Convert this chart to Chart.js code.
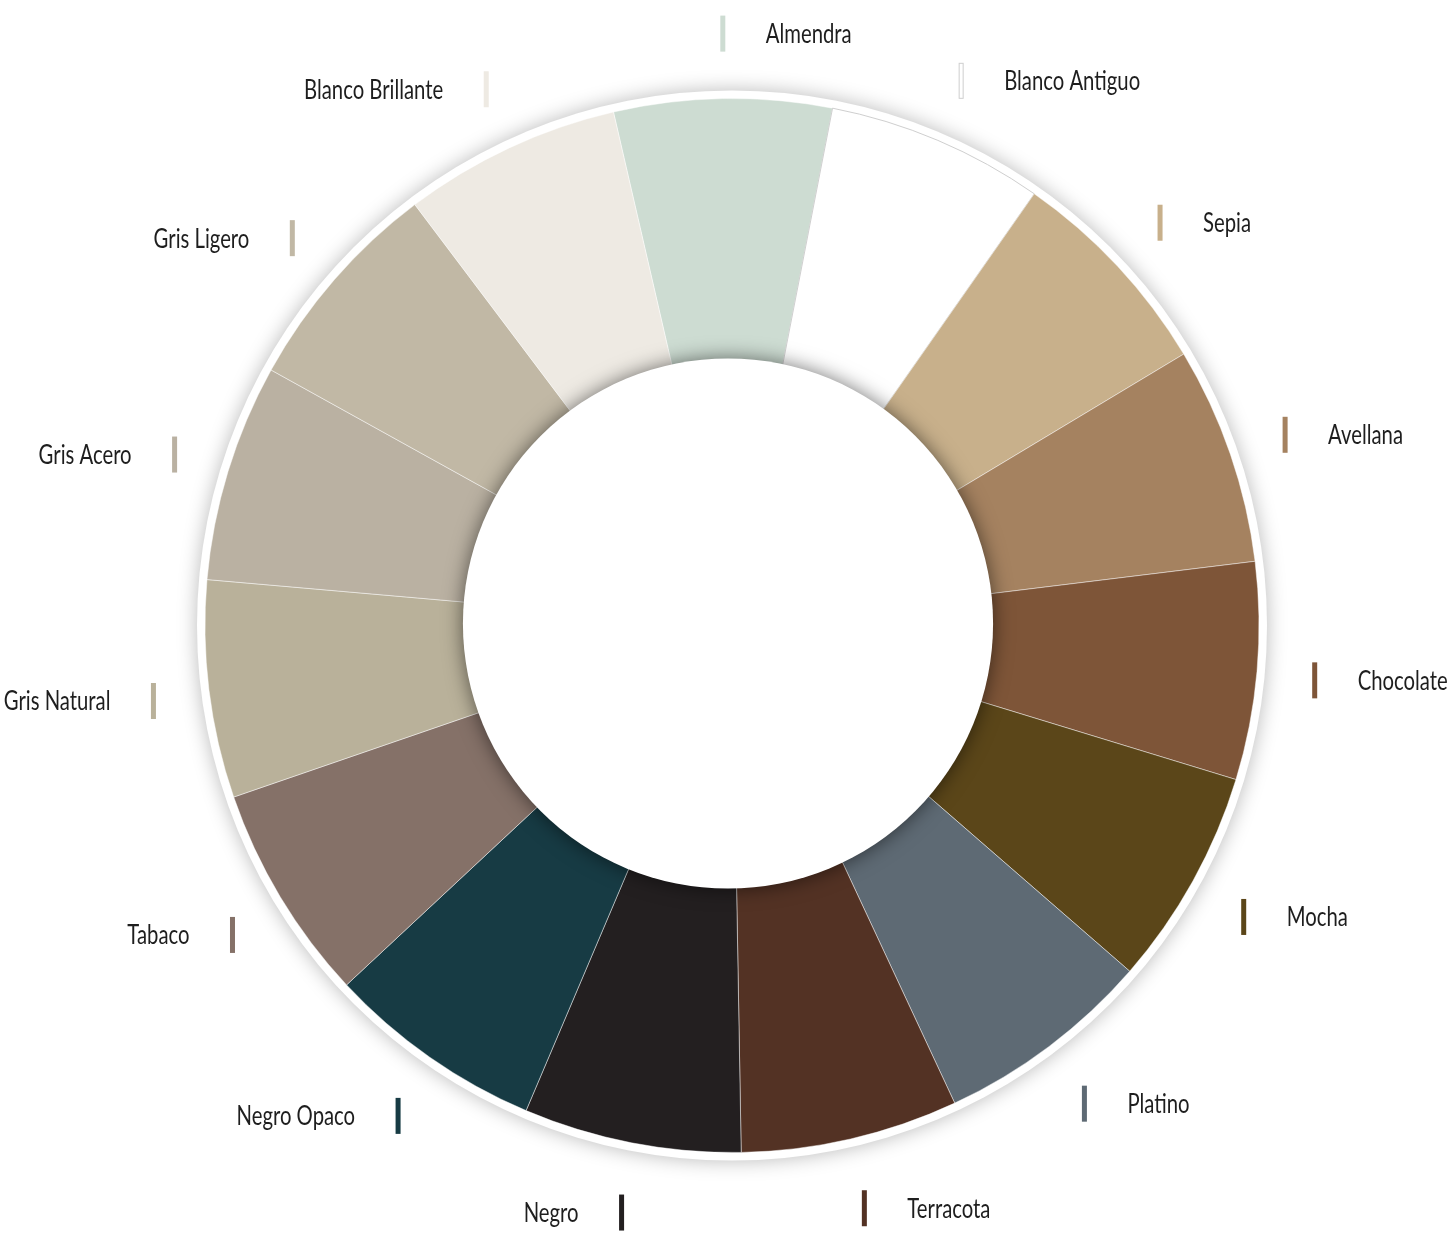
<!DOCTYPE html>
<html>
<head>
<meta charset="utf-8">
<title>Colores</title>
<script src="https://cdn.jsdelivr.net/npm/chart.js@4.4.0/dist/chart.umd.min.js"></script>
<style>
  html, body { margin: 0; padding: 0; background: #ffffff; }
  canvas { display: block; }
</style>
</head>
<body>
<canvas id="chart" width="1449" height="1233"></canvas>
<script>
"use strict";

// colour names, clockwise from the top
var labels = [
    "Almendra", "Blanco Antiguo", "Sepia", "Avellana", "Chocolate",
    "Mocha", "Platino", "Terracota", "Negro", "Negro Opaco",
    "Tabaco", "Gris Natural", "Gris Acero", "Gris Ligero", "Blanco Brillante"
];

// every slice is the same size
var values = [1, 1, 1, 1, 1, 1, 1, 1, 1, 1, 1, 1, 1, 1, 1];

var colors = [
    "#cddcd2", "#ffffff", "#c8b08b", "#a58260", "#7e5538",
    "#5b4619", "#5e6a74", "#533224", "#231f20", "#173b44",
    "#857168", "#b9b19a", "#bab1a2", "#c1b8a5", "#eeeae3"
];

var borders = [
    "rgba(255,255,255,0.45)", "#cfcfcf", "rgba(255,255,255,0.45)", "rgba(255,255,255,0.45)", "rgba(255,255,255,0.45)",
    "rgba(255,255,255,0.45)", "rgba(255,255,255,0.45)", "rgba(255,255,255,0.45)", "rgba(255,255,255,0.45)", "rgba(255,255,255,0.45)",
    "rgba(255,255,255,0.45)", "rgba(255,255,255,0.45)", "rgba(255,255,255,0.45)", "rgba(255,255,255,0.45)", "rgba(255,255,255,0.45)"
];

// white rim behind the ring, white disc with shadow in the hole, labels with colour ticks
var ringDecor = {
    id: "ringDecor",
    beforeDatasetsDraw: function (chart) {
        var arc = chart.getDatasetMeta(0).data[0];
        var ctx = chart.ctx;
        ctx.save();
        ctx.shadowColor = "rgba(0,0,0,0.28)";
        ctx.shadowBlur = 20;
        ctx.fillStyle = "#ffffff";
        ctx.beginPath();
        ctx.arc(arc.x, arc.y, arc.outerRadius + 8, 0, Math.PI * 2);
        ctx.fill();
        ctx.restore();
    },
    afterDatasetsDraw: function (chart) {
        var meta = chart.getDatasetMeta(0);
        var first = meta.data[0];
        var ctx = chart.ctx;
        var cx = first.x, cy = first.y, R = first.outerRadius;

        // the hole sits a touch up and left of the ring centre
        ctx.save();
        ctx.shadowColor = "rgba(0,0,0,0.55)";
        ctx.shadowBlur = 20;
        ctx.fillStyle = "#ffffff";
        ctx.beginPath();
        ctx.arc(cx - 4, cy - 2, R * 0.503, 0, Math.PI * 2);
        ctx.fill();
        ctx.restore();

        ctx.save();
        ctx.font = '26px Lato, "Liberation Sans", sans-serif';
        ctx.textBaseline = "middle";
        meta.data.forEach(function (el, i) {
            var mid = (el.startAngle + el.endAngle) / 2;
            var bx = cx + 1 + R * 1.108 * Math.cos(mid);
            var by = cy + 3 + R * 1.129 * Math.sin(mid);
            ctx.fillStyle = colors[i];
            ctx.fillRect(bx - 2.5, by - 18, 5, 36);
            if (borders[i].charAt(0) === "#") {
                ctx.strokeStyle = borders[i];
                ctx.lineWidth = 1;
                ctx.strokeRect(bx - 2, by - 17.5, 4, 35);
            }
            var right = Math.cos(mid) >= -0.05;
            ctx.save();
            ctx.translate(right ? bx + 43 : bx - 43, by + 1);
            ctx.scale(0.78, 1);
            ctx.fillStyle = "#1e1e1e";
            ctx.textAlign = right ? "left" : "right";
            ctx.fillText(labels[i], 0, 0);
            ctx.restore();
        });
        ctx.restore();
    }
};

var ctx = document.getElementById("chart").getContext("2d");

var myChart = new Chart(ctx, {
    type: "doughnut",
    data: {
        labels: labels,
        datasets: [{
            data: values,
            backgroundColor: colors,
            borderColor: borders,
            borderWidth: 1,
            hoverOffset: 0
        }]
    },
    options: {
        responsive: false,
        animation: false,
        rotation: -13,
        cutout: "49%",
        layout: {
            padding: { top: 98, bottom: 80, left: 204, right: 189 }
        },
        plugins: {
            legend: { display: false },
            tooltip: { enabled: false }
        }
    },
    plugins: [ringDecor]
});
</script>
</body>
</html>
